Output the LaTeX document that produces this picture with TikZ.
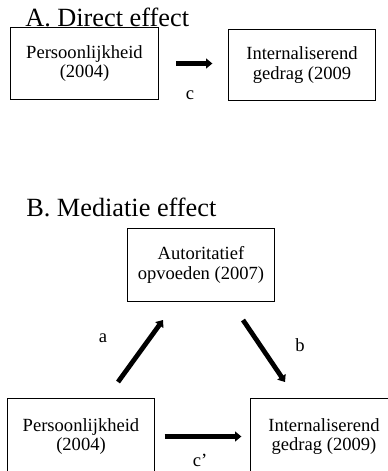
\documentclass[tikz,border=0pt]{standalone}
\usepackage{fontspec}
\setmainfont{Liberation Serif}
\usetikzlibrary{arrows.meta}
\tikzset{
  var/.style={draw,line width=0.7pt,minimum width=3.68cm,minimum height=1.78cm,
    inner sep=0pt,outer sep=0pt,align=center,
    font=\fontsize{13.2}{13.8}\selectfont},
  pad/.style={line width=3.4pt,-{Triangle[length=4.5pt,width=7pt]}},
  lab/.style={font=\fontsize{13.2}{14}\selectfont},
  kop/.style={anchor=base west,inner sep=0pt,font=\fontsize{18.7}{20}\selectfont}
}
\begin{document}
\begin{tikzpicture}[x=0.025cm,y=-0.025cm]
\useasboundingbox (0,0) rectangle (387,471);
%
% A. direct effect
\node[var] (per1) at (84.5,63.5) {Persoonlijkheid\\(2004)};
\node[var] (int1) at (302,65) {Internaliserend\\gedrag (2009};
\node[kop,fill=white,fill opacity=0,text opacity=1] (kopA) at (25,27) {A. Direct effect};
\draw[pad,shorten <=18*0.025cm,shorten >=16*0.025cm](per1.east)--(per1.east-|int1.west);
\node[lab] (c) at (190,95) {c};
%
% B. mediatie effect
\node[kop] (kopB) at (26,217) {B. Mediatie effect};
\node[var,minimum height=1.83cm] (aut) at (201,265) {Autoritatief\\opvoeden (2007)};
\node[var,minimum height=1.9cm] (per2) at (81,436.5) {Persoonlijkheid\\(2004)};
\node[var,minimum height=1.9cm] (int2) at (324,436.5) {Internaliserend\\gedrag (2009)};
\coordinate (a0) at (118,382);
\coordinate (a1) at (163,320);
\coordinate (b0) at (243,320);
\coordinate (b1) at (285,382);
\draw[pad](a0)--(a1);
\draw[pad](b0)--(b1);
\draw[pad,shorten <=10*0.025cm,shorten >=9*0.025cm](per2.east)--(per2.east-|int2.west);
\node[lab] (a) at (103,338) {a};
\node[lab] (b) at (300,345) {b};
\node[lab] (cc) at (200,460) {c’};
\end{tikzpicture}
\end{document}
